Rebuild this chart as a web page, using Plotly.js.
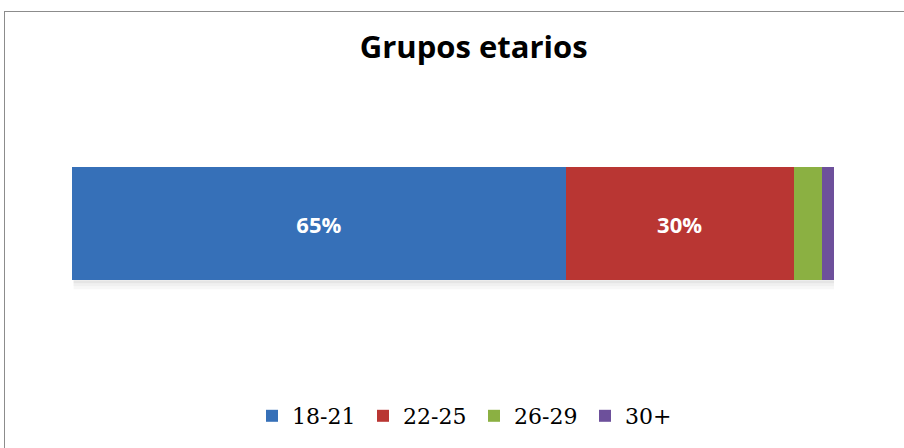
<!DOCTYPE html>
<html>
<head>
<meta charset="utf-8">
<script src="https://cdn.plot.ly/plotly-3.0.1.min.js"></script>
<style>
  html, body { margin: 0; padding: 0; background: #ffffff; overflow: hidden; }
  #frame { position: absolute; left: 4px; top: 11px; width: 1200px; height: 800px; border: 1.5px solid #8c8c8c; box-sizing: border-box; }
  #chart { position: absolute; left: 0; top: 0; width: 904px; height: 448px; }
</style>
</head>
<body>
<div id="frame"></div>
<div id="chart"></div>
<script>
const categories = ["18-21", "22-25", "26-29", "30+"];
const values = [64.8, 29.9, 3.7, 1.6];
const labels = ["65%", "30%", "", ""];
const colors = ["#3670b8", "#b93633", "#8bb042", "#6d509b"];
const row = ["Grupos"];

const traces = categories.map((c, i) => ({
  type: "bar",
  orientation: "h",
  name: c,
  y: row,
  x: [values[i]],
  text: [labels[i]],
  textposition: "inside",
  insidetextanchor: "middle",
  textangle: 0,
  textfont: { family: "Open Sans", size: 22, color: "#ffffff", weight: "bold" },
  marker: { color: colors[i], line: { width: 0 } },
  hoverinfo: "skip"
}));

const halfBar = (1 - 0.452) / 2;
const px = 1 / 208;
const shadow = [
  { y0: -halfBar - 3 * px, y1: -halfBar, op: 0.10 },
  { y0: -halfBar - 6 * px, y1: -halfBar - 3 * px, op: 0.06 },
  { y0: -halfBar - 9 * px, y1: -halfBar - 6 * px, op: 0.03 }
].map(s => ({
  type: "rect", xref: "x", yref: "y", layer: "below",
  x0: 0.2, x1: 100.4, y0: s.y0, y1: s.y1,
  fillcolor: "rgba(0,0,0," + s.op + ")", line: { width: 0 }
}));

const layout = {
  width: 904,
  height: 448,
  margin: { l: 72, r: 70, t: 120, b: 120, pad: 0 },
  paper_bgcolor: "rgba(0,0,0,0)",
  plot_bgcolor: "rgba(0,0,0,0)",
  barmode: "stack",
  bargap: 0.452,
  showlegend: true,
  shapes: shadow,
  title: {
    text: "<b>Grupos etarios</b>",
    font: { family: "Open Sans", size: 31, color: "#000000" },
    x: 0.524, xref: "container", xanchor: "center",
    y: 1 - 47 / 448, yref: "container", yanchor: "middle"
  },
  xaxis: { range: [0, 100], showgrid: false, zeroline: false, showticklabels: false, showline: false, ticks: "", fixedrange: true },
  yaxis: { range: [-0.5, 0.5], showgrid: false, zeroline: false, showticklabels: false, showline: false, ticks: "", fixedrange: true },
  legend: {
    orientation: "h",
    x: (252 - 72) / 762, xanchor: "left",
    y: -88 / 208, yanchor: "middle",
    font: { family: "DejaVu Serif", size: 22, color: "#000000" },
    entrywidth: 66, entrywidthmode: "pixels",
    itemwidth: 30,
    traceorder: "normal",
    bgcolor: "rgba(0,0,0,0)"
  }
};

Plotly.newPlot("chart", traces, layout, { displayModeBar: false, staticPlot: true });
</script>
</body>
</html>
